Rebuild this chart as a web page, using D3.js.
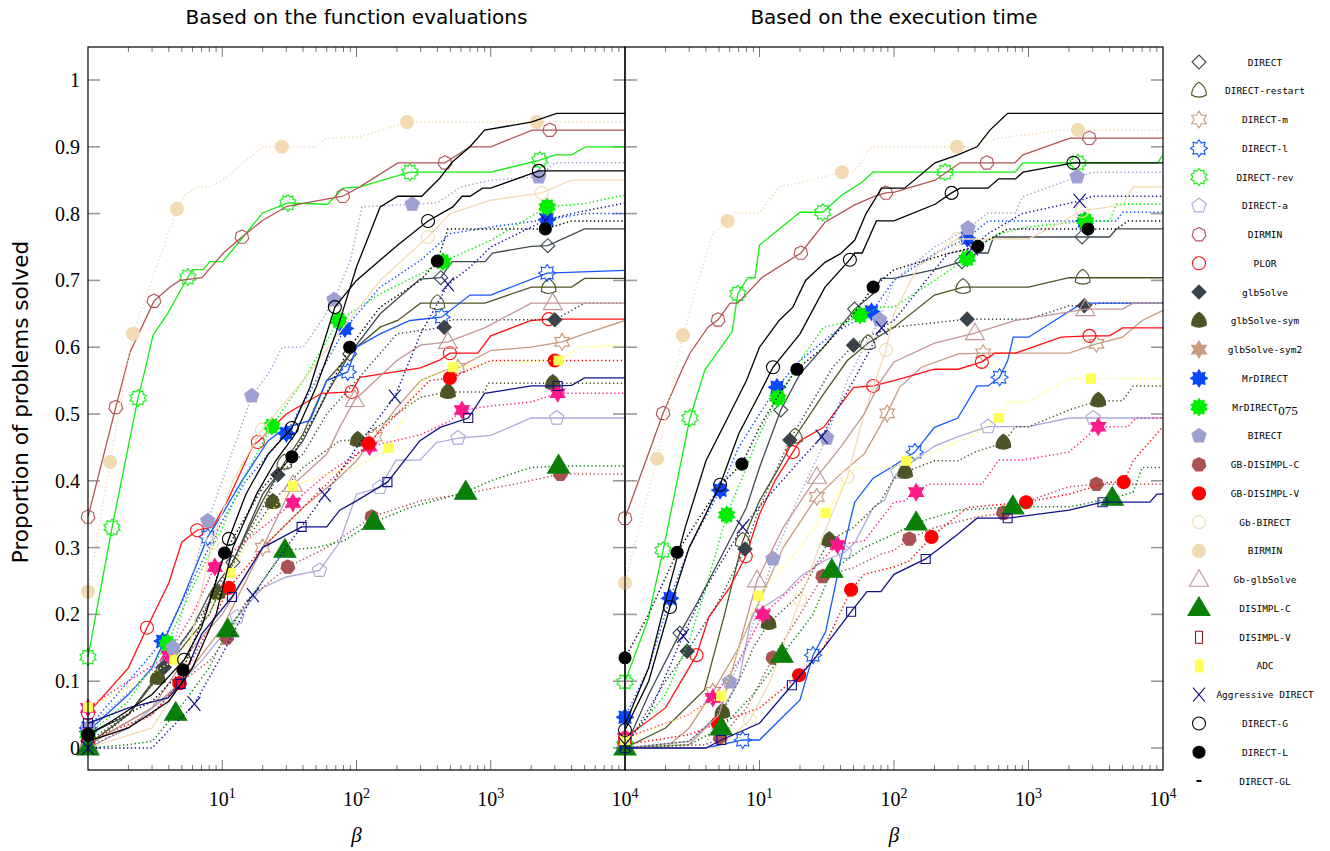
<!DOCTYPE html>
<html>
<head>
<meta charset="utf-8">
<script src="https://cdn.jsdelivr.net/npm/d3@7"></script>
<style>
  body { margin: 0; background: #fff; }
  svg { display: block; }
</style>
</head>
<body>
<svg id="chart" width="1330" height="851"></svg>
<script>
// DATA: [beta, proportion, mark?] for each solver, function evaluations (fe) and execution time (et)

const panelTitles = ["Based on the function evaluations", "Based on the execution time"]
const yTicks = [0, 0.1, 0.2, 0.3, 0.4, 0.5, 0.6, 0.7, 0.8, 0.9, 1]
const xTickExps = [1, 2, 3, 4]

const fe_DIRECT = [[1,0.02,1],[2,0.05],[3.6,0.12,1],[6,0.18],[8,0.23],[12,0.278,1],[20,0.38],[40,0.46],[60,0.53],[89,0.59,1],[150,0.65],[297,0.702],[424,0.704,1],[515,0.728],[907,0.728],[1030,0.741],[2010,0.751],[2660,0.752,1],[5000,0.777],[10000,0.777]]
const fe_DIRECT_restart = [[1,0.005,1],[2,0.05],[3.3,0.105,1],[8,0.2],[12,0.28],[20,0.37],[29,0.427,1],[40,0.47],[60,0.55],[100,0.6],[150,0.63],[203,0.64],[300,0.666],[400,0.666,1],[907,0.666],[2010,0.69],[2700,0.69,1],[4000,0.69],[5000,0.703],[10000,0.703]]
const fe_DIRECT_m = [[1,0.005,1],[3,0.06],[5,0.1],[10,0.18],[20,0.3,1],[40,0.36],[70,0.4],[100,0.43],[137,0.466,1],[200,0.51],[300,0.55],[450,0.565],[570,0.569,1],[1000,0.595],[2000,0.6],[3400,0.608,1],[5000,0.62],[10000,0.64]]
const fe_DIRECT_l = [[1,0.025,1],[2,0.08],[3,0.12],[5,0.22],[7.8,0.316,1],[10,0.35],[14,0.4],[22,0.46],[30,0.48],[45,0.49],[60,0.55],[86,0.563,1],[100,0.6],[150,0.62],[250,0.64],[430,0.645,1],[700,0.678],[1000,0.678],[2630,0.711,1],[10000,0.715]]
const fe_DIRECT_rev = [[1,0.136,1],[1.51,0.33,1],[2.36,0.524,1],[2.66,0.566],[3.05,0.618],[3.94,0.651],[5.55,0.705,1],[6.06,0.716],[7.2,0.716],[8.1,0.728],[10.1,0.728],[14.3,0.765],[20,0.801],[30.8,0.816,1],[61,0.814],[79,0.838],[106,0.84],[250,0.862,1],[1000,0.862],[2320,0.88,1],[3000,0.888],[4000,0.888],[5100,0.9],[10000,0.9]]
const fe_DIRECT_a = [[1,0,1],[2,0.03],[4,0.08],[7,0.13],[12.9,0.196,1],[20,0.24],[30,0.256],[53,0.266,1],[75,0.308],[100,0.38],[149,0.39,1],[197,0.431],[297,0.431],[393,0.457],[570,0.464,1],[1000,0.468],[2000,0.494],[3100,0.494,1],[10000,0.494]]
const fe_DIRMIN = [[1,0.346,1],[1.61,0.51,1],[2.06,0.593],[3.1,0.669,1],[4.08,0.69],[4.84,0.7],[7.07,0.704],[10.2,0.741],[14,0.765,1],[20.1,0.79],[30.3,0.811],[79,0.826,1],[106,0.84],[203,0.876],[456,0.876,1],[700,0.9],[1000,0.9],[2040,0.925],[2750,0.925,1],[10000,0.925]]
const fe_PLOR = [[1,0.052,1],[2,0.12],[2.75,0.18,1],[4,0.247],[5,0.308],[6.5,0.326,1],[8.5,0.331],[11,0.371],[17,0.454],[18.4,0.458,1],[30,0.5],[55,0.531],[92,0.533,1],[106,0.555],[300,0.569],[420,0.581],[496,0.591,1],[800,0.591],[1000,0.617],[2000,0.64],[2700,0.642,1],[10000,0.642]]
const fe_glbSolve = [[1,0.01,1],[2,0.05],[3.7,0.121,1],[7,0.2],[12,0.28],[20,0.36],[26,0.409,1],[40,0.44],[60,0.5],[100,0.55],[200,0.62],[450,0.63,1],[500,0.641],[3000,0.641,1],[5000,0.666],[10000,0.666]]
const fe_glbSolve_sym = [[1,0,1],[2,0.05],[3.3,0.105,1],[6,0.18],[9.2,0.232,1],[15,0.31],[23.8,0.368,1],[40,0.42],[75,0.46],[102,0.461,1],[200,0.5],[300,0.525],[480,0.533,1],[900,0.533],[950,0.546],[2900,0.546,1],[10000,0.546]]
const fe_glbSolve_sym2 = [[1,0.06,1],[2,0.1],[3.96,0.139,1],[6,0.2],[8.8,0.271,1],[15,0.31],[33.6,0.367,1],[60,0.41],[100,0.44],[125,0.451,1],[300,0.469],[500,0.49],[610,0.506,1],[1000,0.512],[2000,0.518],[3150,0.531,1],[10000,0.531]]
const fe_MrDIRECT = [[1,0.03,1],[2,0.1],[3.6,0.16,1],[6,0.25],[10,0.34],[15,0.4],[30,0.471,1],[50,0.55],[82,0.628,1],[150,0.69],[300,0.73],[500,0.77],[1000,0.78],[2630,0.791,1],[5000,0.8],[10000,0.8]]
const fe_MrDIRECT075 = [[1,0.02,1],[2,0.07],[3.9,0.157,1],[6,0.24],[10,0.33],[15,0.41],[23.4,0.482,1],[40,0.55],[74,0.64,1],[150,0.68],[300,0.71],[440,0.728,1],[1000,0.76],[2630,0.81,1],[5000,0.815],[10000,0.828]]
const fe_BIRECT = [[1,0.03,1],[2.5,0.1],[4.3,0.15,1],[6,0.26],[7.8,0.34,1],[10,0.4],[16.6,0.527,1],[22,0.56],[28,0.6],[40,0.6],[55,0.64],[68,0.671,1],[90,0.73],[110,0.81],[260,0.814,1],[400,0.816],[600,0.84],[1000,0.85],[2280,0.855,1],[3000,0.876],[10000,0.876]]
const fe_GB_DISIMPL_C = [[1,0,1],[3,0.05],[4.8,0.097,1],[8,0.13],[10.8,0.165,1],[15,0.22],[30.8,0.271,1],[60,0.3],[100,0.33],[130,0.346,1],[300,0.37],[600,0.38],[1500,0.395],[3300,0.41,1],[10000,0.41]]
const fe_GB_DISIMPL_V = [[1,0.01,1],[3,0.05],[4.8,0.097,1],[8,0.18],[11.2,0.24,1],[20,0.3],[40,0.36],[80,0.42],[123,0.456,1],[200,0.5],[350,0.55],[496,0.554,1],[1000,0.58],[3000,0.58,1],[10000,0.58]]
const fe_Gb_BIRECT = [[1,0,1],[3,0.03],[5,0.1],[8.4,0.307,1],[12,0.4],[19.7,0.476,1],[40,0.55],[80,0.63],[150,0.7],[340,0.765,1],[500,0.8],[1000,0.82],[2400,0.831,1],[4000,0.85],[10000,0.85]]
const fe_BIRMIN = [[1,0.234,1],[1.46,0.428,1],[2.16,0.62,1],[4.6,0.807,1],[5.28,0.828],[6.6,0.84],[7.95,0.84],[10.1,0.85],[20,0.9],[27.8,0.9,1],[50.6,0.9],[60,0.913],[106,0.915],[238,0.937,1],[2200,0.937,1],[10000,0.937]]
const fe_Gb_glbSolve = [[1,0.005,1],[3,0.06],[6,0.15],[10,0.2],[20,0.3],[33.6,0.394,1],[60,0.44],[75,0.48],[97,0.521,1],[200,0.58],[300,0.603],[480,0.608,1],[900,0.629],[2000,0.666],[2900,0.666,1],[10000,0.666]]
const fe_DISIMPL_C = [[1,0,1],[2,0.005],[3,0.01],[4.5,0.052,1],[8,0.12],[11,0.177,1],[20,0.25],[29.3,0.296,1],[50,0.3],[80,0.31],[134,0.338,1],[250,0.36],[650,0.383,1],[1000,0.4],[2000,0.42],[3200,0.422,1],[10000,0.422]]
const fe_DISIMPL_V = [[1,0.037,1],[2,0.06],[3.95,0.075],[4.9,0.096,1],[7,0.17],[11.8,0.226,1],[20,0.3],[39,0.331,1],[60,0.331],[75,0.356],[100,0.37],[170,0.398,1],[297,0.46],[420,0.48],[680,0.494,1],[900,0.531],[2000,0.542],[3150,0.542,1],[4000,0.543],[5000,0.554],[10000,0.554]]
const fe_ADC = [[1,0.061,1],[2,0.09],[4.4,0.132,1],[8,0.2],[11.4,0.262,1],[20,0.34],[33.6,0.392,1],[60,0.41],[100,0.42],[174,0.449,1],[300,0.55],[525,0.57,1],[1000,0.575],[3200,0.58,1],[4500,0.6],[10000,0.603]]
const fe_Aggressive = [[1,0,1],[3,0],[6.2,0.066,1],[10,0.14],[16.9,0.229,1],[30,0.3],[58,0.379,1],[100,0.45],[193,0.526,1],[300,0.62],[480,0.694,1],[700,0.72],[1000,0.75],[2550,0.79,1],[4000,0.8],[10000,0.816]]
const fe_DIRECT_G = [[1,0.02,1],[1.5,0.04],[3,0.08],[5.2,0.132,1],[7,0.18],[9,0.25],[11.2,0.313,1],[15,0.38],[22,0.44],[33,0.479,1],[45,0.54],[69,0.66,1],[100,0.7],[203,0.753],[341,0.789,1],[522,0.81],[612,0.826],[700,0.826],[870,0.838],[1000,0.838],[2280,0.864,1],[10000,0.864]]
const fe_DIRECT_L = [[1,0.02,1],[3,0.07],[5.1,0.117,1],[8,0.22],[10.4,0.292,1],[20,0.39],[33,0.436,1],[50,0.5],[89,0.6,1],[150,0.66],[300,0.7],[400,0.729,1],[480,0.777],[2550,0.777,1],[4000,0.789],[10000,0.789]]
const fe_DIRECT_GL = [[1,0.01],[2,0.03],[4,0.07],[6,0.12],[9,0.2],[12,0.3],[18,0.38],[25,0.43],[35,0.47],[50,0.54],[70,0.62],[100,0.72],[150,0.81],[203,0.826],[306,0.826],[417,0.853],[515,0.877],[700,0.9],[900,0.925],[2000,0.937],[3100,0.95],[10000,0.95]]

const et_DIRECT = [[1,0,1],[1.5,0.08],[2.56,0.172,1],[3.5,0.22],[5,0.28],[8,0.36],[10,0.42],[14.4,0.506,1],[20,0.56],[30,0.6],[51,0.657,1],[70,0.68],[80,0.703],[100,0.703],[200,0.716],[320,0.728,1],[414,0.741],[500,0.741],[550,0.765],[2500,0.765,1],[4000,0.765],[4500,0.777],[10000,0.777]]
const et_DIRECT_restart = [[1,0,1],[2,0.03],[3.9,0.087],[5.5,0.2],[7.5,0.31,1],[10,0.37],[14,0.42],[18.4,0.466,1],[30,0.53],[45,0.58],[64,0.606,1],[100,0.63],[200,0.678],[326,0.69,1],[1000,0.69],[2000,0.704],[2530,0.704,1],[10000,0.704]]
const et_DIRECT_m = [[1,0,1],[2,0],[3,0.03],[4.5,0.084,1],[7,0.15],[10,0.22],[15,0.3],[26.7,0.376,1],[40,0.41],[60,0.44],[89,0.501,1],[110,0.54],[160,0.57],[300,0.59],[460,0.591,1],[2000,0.591],[3200,0.605,1],[5000,0.615],[7000,0.64],[10000,0.655]]
const et_DIRECT_l = [[1,0,1],[4,0],[7.5,0.012,1],[10,0.012],[20,0.072],[25,0.139,1],[31,0.174],[40,0.28],[51,0.368],[70,0.404],[95,0.42],[143,0.443,1],[200,0.48],[298,0.494],[414,0.542],[500,0.542],[610,0.555,1],[700,0.58],[770,0.615],[1000,0.615],[2500,0.666],[10000,0.666]]
const et_DIRECT_rev = [[1,0.099,1],[1.48,0.192],[1.92,0.296,1],[3.04,0.494,1],[3.93,0.566],[6.25,0.623],[6.9,0.68,1],[8.2,0.704],[9.26,0.704],[10,0.753],[20,0.802],[29.5,0.802,1],[41,0.828],[57.8,0.847],[69.8,0.862],[240,0.862,1],[794,0.862],[910,0.876],[2330,0.876,1],[9130,0.876],[10000,0.888]]
const et_DIRECT_a = [[1,0,1],[3,0.01],[5,0.05],[7,0.1],[8.8,0.2],[15,0.23],[20,0.256],[30,0.28],[43,0.293,1],[51,0.307],[70,0.36],[85,0.371],[100,0.404],[107,0.413,1],[200,0.452],[300,0.466],[500,0.481,1],[1000,0.481],[2000,0.494],[3030,0.494,1],[10000,0.494]]
const et_DIRMIN = [[1,0.344,1],[1.92,0.501,1],[2.65,0.566],[3.04,0.591],[4.14,0.63],[4.92,0.641,1],[6.04,0.666],[6.9,0.666],[10.4,0.704],[20.3,0.741,1],[30.7,0.787],[51,0.813],[72,0.826],[87,0.831,1],[101,0.832],[202,0.85],[310,0.876],[490,0.876,1],[794,0.876],[910,0.888],[2040,0.913],[2830,0.913,1],[10000,0.913]]
const et_PLOR = [[1,0.015,1],[2,0.06],[3.4,0.139,1],[4.2,0.196],[6,0.24],[7.9,0.287,1],[10,0.35],[13,0.4],[17.7,0.443,1],[20,0.46],[30,0.48],[50,0.54],[70,0.542,1],[100,0.55],[200,0.567],[300,0.567],[450,0.578,1],[560,0.591],[800,0.591],[1750,0.615],[2840,0.617,1],[4000,0.617],[5000,0.629],[10000,0.629]]
const et_glbSolve = [[1,0,1],[2,0.1],[2.9,0.145,1],[5,0.22],[7.8,0.298,1],[10,0.36],[16.8,0.461,1],[25,0.52],[35,0.57],[50,0.603,1],[70,0.62],[100,0.63],[350,0.642,1],[1000,0.642],[2000,0.662],[2600,0.662,1],[3500,0.666],[10000,0.666]]
const et_glbSolve_sym = [[1,0,1],[3,0.01],[5.3,0.054,1],[7,0.1],[9,0.15],[11.7,0.187,1],[20,0.23],[33,0.311,1],[50,0.33],[80,0.37],[100,0.404],[121,0.413,1],[200,0.43],[300,0.43],[400,0.443],[650,0.457,1],[800,0.481],[1000,0.481],[2000,0.506],[3300,0.52,1],[5000,0.52],[6000,0.542],[10000,0.542]]
const et_glbSolve_sym2 = [[1,0.015,1],[3,0.05],[4.5,0.075,1],[7,0.13],[10.6,0.2,1],[20,0.25],[38,0.304,1],[60,0.31],[100,0.368],[120,0.37],[146,0.383,1],[180,0.395],[450,0.395],[600,0.431],[900,0.431],[2000,0.443],[3300,0.481,1],[5500,0.481],[6300,0.494],[10000,0.494]]
const et_MrDIRECT = [[1,0.046,1],[1.5,0.12],[2.16,0.224,1],[3,0.3],[5.1,0.386,1],[7,0.45],[10,0.5],[13.5,0.54,1],[20,0.58],[35,0.62],[68,0.653,1],[100,0.7],[200,0.74],[350,0.763,1],[500,0.789],[2600,0.789,1],[4500,0.789],[5000,0.802],[10000,0.802]]
const et_MrDIRECT075 = [[1,0.005,1],[2,0.08],[3,0.16],[4,0.24],[5.7,0.349,1],[8,0.42],[10,0.47],[13.7,0.524,1],[20,0.58],[30,0.63],[45,0.638],[56,0.648,1],[80,0.66],[100,0.66],[200,0.7],[350,0.733,1],[400,0.75],[600,0.77],[1000,0.78],[2650,0.789,1],[4000,0.789],[4500,0.814],[10000,0.814]]
const et_BIRECT = [[1,0,1],[4,0.005],[6,0.099,1],[8,0.15],[10,0.22],[12.6,0.283,1],[20,0.38],[31.6,0.464,1],[45,0.55],[60,0.6],[78,0.641,1],[100,0.7],[200,0.75],[355,0.778,1],[500,0.801],[800,0.801],[900,0.825],[2300,0.855,1],[3000,0.862],[10000,0.862]]
const et_GB_DISIMPL_C = [[1,0,1],[4,0.005],[5.1,0.015,1],[8,0.06],[12.6,0.135,1],[20,0.2],[29.5,0.257,1],[50,0.27],[80,0.29],[100,0.296],[130,0.313,1],[200,0.33],[400,0.345],[650,0.352,1],[1000,0.37],[2000,0.391],[3200,0.395,1],[10000,0.395]]
const et_GB_DISIMPL_V = [[1,0.005,1],[3,0.02],[4.9,0.037,1],[10,0.06],[19.7,0.109,1],[30,0.15],[48,0.237,1],[60,0.26],[100,0.271],[130,0.28],[190,0.316,1],[350,0.36],[960,0.368,1],[2000,0.38],[4000,0.398],[5100,0.398,1],[6000,0.43],[10000,0.481]]
const et_Gb_BIRECT = [[1,0,1],[5,0],[8.5,0.042,1],[12,0.1],[20,0.222,1],[30,0.32],[45,0.406,1],[60,0.5],[87,0.596,1],[100,0.65],[150,0.72],[294,0.762,1],[1000,0.762],[2500,0.804,1],[5000,0.813],[6000,0.84],[10000,0.84]]
const et_BIRMIN = [[1,0.247,1],[1.73,0.433,1],[2.7,0.618,1],[3.5,0.7],[4.5,0.77],[5.8,0.789,1],[6.5,0.801],[10,0.801],[14,0.84],[20,0.846],[41,0.862,1],[50,0.862],[68,0.9],[100,0.9],[294,0.9,1],[400,0.9],[600,0.913],[1800,0.925],[2330,0.925,1],[10000,0.925]]
const et_Gb_glbSolve = [[1,0,1],[3,0.005],[5,0.05],[7,0.15],[9.6,0.251,1],[15,0.33],[26.7,0.406,1],[40,0.45],[60,0.5],[80,0.55],[100,0.578],[200,0.606],[400,0.621,1],[800,0.64],[2000,0.653],[2650,0.657,1],[5000,0.657],[6000,0.666],[10000,0.666]]
const et_DISIMPL_C = [[1,0,1],[3,0.005],[5.2,0.03,1],[9,0.08],[14.7,0.139,1],[25,0.2],[34.5,0.266,1],[60,0.3],[100,0.32],[146,0.337,1],[300,0.356],[765,0.361,1],[2000,0.361],[4200,0.374,1],[6000,0.383],[7000,0.42],[10000,0.42]]
const et_DISIMPL_V = [[1,0,1],[4,0],[5.2,0.012,1],[10,0.037],[17.4,0.094,1],[30,0.15],[48,0.204,1],[63,0.234],[80,0.234],[100,0.26],[172,0.283,1],[298,0.32],[414,0.344],[700,0.344,1],[2000,0.356],[3550,0.368,1],[8000,0.368],[9000,0.38],[10000,0.38]]
const et_ADC = [[1,0.012,1],[3,0.05],[5.2,0.078,1],[9.8,0.228,1],[20,0.3],[31,0.352,1],[51,0.42],[100,0.42],[123,0.43,1],[200,0.443],[400,0.47],[600,0.494,1],[700,0.518],[1000,0.518],[2000,0.553],[2900,0.553,1],[10000,0.553]]
const et_Aggressive = [[1,0.005,1],[1.5,0.05],[2.7,0.168,1],[4,0.24],[7.5,0.331,1],[12,0.38],[18,0.42],[29,0.466,1],[50,0.55],[81,0.629,1],[100,0.64],[250,0.74],[380,0.748,1],[500,0.77],[900,0.8],[2400,0.819,1],[3000,0.826],[10000,0.826]]
const et_DIRECT_G = [[1,0.027,1],[1.5,0.1],[2.16,0.211,1],[3,0.3],[5.1,0.394,1],[7,0.47],[10,0.53],[12.6,0.57,1],[20,0.62],[30.7,0.69],[47,0.731,1],[51,0.741],[58,0.741],[74,0.789],[100,0.789],[202,0.814],[268,0.831,1],[310,0.838],[500,0.838],[600,0.852],[800,0.852],[910,0.862],[2160,0.876,1],[10000,0.876]]
const et_DIRECT_L = [[1,0.135,1],[1.5,0.2],[2.44,0.293,1],[4,0.36],[5.5,0.4],[7.4,0.425,1],[10,0.48],[14,0.53],[19,0.567,1],[30,0.6],[50,0.65],[70,0.69,1],[100,0.716],[250,0.74],[420,0.751,1],[700,0.777],[2770,0.777,1],[4500,0.777],[5500,0.789],[10000,0.789]]
const et_DIRECT_GL = [[1,0.035],[1.5,0.12],[2,0.22],[2.8,0.33],[4,0.43],[6,0.5],[8,0.55],[10,0.6],[14,0.64],[17.7,0.66],[22,0.7],[30.7,0.727],[40,0.74],[51,0.76],[62,0.8],[81,0.838],[120,0.838],[202,0.876],[298,0.888],[414,0.9],[517,0.925],[700,0.95],[10000,0.95]]

// SERIES TABLE (styles) //

const series = [
  {name:"DIRECT", fe:fe_DIRECT, et:et_DIRECT, color:"#3e4a51", dotted:false, shape:"diamond", filled:false},
  {name:"DIRECT-restart", fe:fe_DIRECT_restart, et:et_DIRECT_restart, color:"#4d5527", dotted:false, shape:"reuleaux", filled:false},
  {name:"DIRECT-m", fe:fe_DIRECT_m, et:et_DIRECT_m, color:"#c99a7e", dotted:false, shape:"star6", filled:false},
  {name:"DIRECT-l", fe:fe_DIRECT_l, et:et_DIRECT_l, color:"#1457ff", dotted:false, shape:"star8", filled:false},
  {name:"DIRECT-rev", fe:fe_DIRECT_rev, et:et_DIRECT_rev, color:"#11ee11", dotted:false, shape:"star10", filled:false},
  {name:"DIRECT-a", fe:fe_DIRECT_a, et:et_DIRECT_a, color:"#aaaad8", dotted:false, shape:"pentagon", filled:false},
  {name:"DIRMIN", fe:fe_DIRMIN, et:et_DIRMIN, color:"#b05656", dotted:false, shape:"heptagon", filled:false},
  {name:"PLOR", fe:fe_PLOR, et:et_PLOR, color:"#ff1111", dotted:false, shape:"circle", filled:false},
  {name:"glbSolve", fe:fe_glbSolve, et:et_glbSolve, color:"#3a4349", dotted:true, shape:"diamond", filled:true},
  {name:"glbSolve-sym", fe:fe_glbSolve_sym, et:et_glbSolve_sym, color:"#4d5527", dotted:true, shape:"reuleaux", filled:true},
  {name:"glbSolve-sym2", fe:fe_glbSolve_sym2, et:et_glbSolve_sym2, color:"#ff1a8c", legendColor:"#c99a7e", dotted:true, shape:"star6", filled:true},
  {name:"MrDIRECT", fe:fe_MrDIRECT, et:et_MrDIRECT, color:"#0a48ff", dotted:true, shape:"star8", filled:true},
  {name:"MrDIRECT075", fe:fe_MrDIRECT075, et:et_MrDIRECT075, color:"#00ee00", dotted:true, shape:"star10", filled:true},
  {name:"BIRECT", fe:fe_BIRECT, et:et_BIRECT, color:"#9fa0d2", dotted:true, shape:"pentagon", filled:true},
  {name:"GB-DISIMPL-C", fe:fe_GB_DISIMPL_C, et:et_GB_DISIMPL_C, color:"#aa5252", dotted:true, shape:"heptagon", filled:true},
  {name:"GB-DISIMPL-V", fe:fe_GB_DISIMPL_V, et:et_GB_DISIMPL_V, color:"#ff0000", dotted:true, shape:"circle", filled:true},
  {name:"Gb-BIRECT", fe:fe_Gb_BIRECT, et:et_Gb_BIRECT, color:"#f3dcb4", dotted:false, shape:"circle", filled:false},
  {name:"BIRMIN", fe:fe_BIRMIN, et:et_BIRMIN, color:"#f2dab2", dotted:true, shape:"circle", filled:true},
  {name:"Gb-glbSolve", fe:fe_Gb_glbSolve, et:et_Gb_glbSolve, color:"#c29696", dotted:false, shape:"triangle", filled:false},
  {name:"DISIMPL-C", fe:fe_DISIMPL_C, et:et_DISIMPL_C, color:"#0a800a", dotted:true, shape:"bigtriangle", filled:true},
  {name:"DISIMPL-V", fe:fe_DISIMPL_V, et:et_DISIMPL_V, color:"#101088", legendColor:"#8b1a1a", dotted:false, shape:"square", legendShape:"rect", filled:false},
  {name:"ADC", fe:fe_ADC, et:et_ADC, color:"#ffff55", dotted:true, shape:"square", legendShape:"rect", filled:true},
  {name:"Aggressive DIRECT", fe:fe_Aggressive, et:et_Aggressive, color:"#101088", dotted:true, shape:"x", filled:false},
  {name:"DIRECT-G", fe:fe_DIRECT_G, et:et_DIRECT_G, color:"#000000", dotted:false, shape:"circle", filled:false},
  {name:"DIRECT-L", fe:fe_DIRECT_L, et:et_DIRECT_L, color:"#000000", dotted:true, shape:"dot", filled:true},
  {name:"DIRECT-GL", fe:fe_DIRECT_GL, et:et_DIRECT_GL, color:"#000000", dotted:false, shape:"dash", filled:false}
]

// MARKER SHAPES //

function polygon(n, r) {
  const pts = []
  for (let i = 0; i < n; i++) {
    const a = -Math.PI/2 + i*2*Math.PI/n
    pts.push([r*Math.cos(a), r*Math.sin(a)])
  }
  return "M" + pts.map(p => p[0].toFixed(2) + "," + p[1].toFixed(2)).join("L") + "Z"
}

function star(n, ro, ri) {
  const pts = []
  for (let i = 0; i < 2*n; i++) {
    const a = -Math.PI/2 + i*Math.PI/n
    const r = i % 2 === 0 ? ro : ri
    pts.push([r*Math.cos(a), r*Math.sin(a)])
  }
  return "M" + pts.map(p => p[0].toFixed(2) + "," + p[1].toFixed(2)).join("L") + "Z"
}

function reuleaux(r) {
  const v = [-90, 30, 150].map(d => [r*Math.cos(d*Math.PI/180), r*Math.sin(d*Math.PI/180)])
  const s = r*Math.sqrt(3)
  return `M${v[0]}A${s},${s} 0 0 1 ${v[1]}A${s},${s} 0 0 1 ${v[2]}A${s},${s} 0 0 1 ${v[0]}Z`
}

function shapePath(shape) {
  switch (shape) {
    case "diamond": return "M0,-7L7,0L0,7L-7,0Z"
    case "reuleaux": return reuleaux(8.5)
    case "star6": return star(6, 8.5, 4.9)
    case "star8": return star(8, 8.5, 5.6)
    case "star10": return star(10, 8.5, 6.2)
    case "pentagon": return polygon(5, 7.5)
    case "heptagon": return polygon(7, 7)
    case "circle": return "M6.5,0A6.5,6.5 0 1 1 -6.5,0A6.5,6.5 0 1 1 6.5,0Z"
    case "dot": return "M6,0A6,6 0 1 1 -6,0A6,6 0 1 1 6,0Z"
    case "triangle": return "M0,-10L9.5,6.5L-9.5,6.5Z"
    case "bigtriangle": return "M0,-11.5L11,7L-11,7Z"
    case "square": return "M-4.5,-4.5h9v9h-9Z"
    case "rect": return "M-3.5,-6h7v12h-7Z"
    case "x": return "M-6,-7L6,7M-6,7L6,-7"
    case "dash": return "M-2.5,0h5"
  }
}

// CHART //

const svg = d3.select("#chart")
const yTop = 47, yBottom = 770
const y = d3.scaleLinear().domain([0, 1]).range([748, 80])

const panels = [
  {key:"fe", x0:88, x1:625, title:panelTitles[0]},
  {key:"et", x0:625, x1:1163, title:panelTitles[1]}
]

const serif = "'Liberation Serif', 'DejaVu Serif', serif"
const sans = "'DejaVu Sans', sans-serif"
const mono = "'DejaVu Sans Mono', monospace"

panels.forEach((p, pi) => {
  const x = d3.scaleLog().domain([1, 1e4]).range([p.x0, p.x1])
  const g = svg.append("g")

  // y ticks (both sides, inside)
  yTicks.forEach(t => {
    g.append("line").attr("x1", p.x0).attr("x2", p.x0 + 12).attr("y1", y(t)).attr("y2", y(t))
      .attr("stroke", "#9a9a9a").attr("stroke-width", 1.6)
    g.append("line").attr("x1", p.x1 - 12).attr("x2", p.x1).attr("y1", y(t)).attr("y2", y(t))
      .attr("stroke", "#9a9a9a").attr("stroke-width", 1.6)
  })

  // x ticks top & bottom
  for (let e = 0; e < 4; e++) {
    for (let m = 1; m <= 9; m++) {
      const v = m * Math.pow(10, e)
      if (v === 1) continue
      const len = m === 1 ? 10 : 5
      const xx = x(v)
      g.append("line").attr("x1", xx).attr("x2", xx).attr("y1", yTop).attr("y2", yTop + len)
        .attr("stroke", "#555").attr("stroke-width", 0.8)
      g.append("line").attr("x1", xx).attr("x2", xx).attr("y1", yBottom).attr("y2", yBottom - len)
        .attr("stroke", "#555").attr("stroke-width", 0.8)
    }
  }

  // clip for lines
  svg.append("clipPath").attr("id", "clip" + pi)
    .append("rect").attr("x", p.x0).attr("y", yTop).attr("width", p.x1 - p.x0).attr("height", yBottom - yTop)

  const line = d3.line().x(d => x(d[0])).y(d => y(d[1]))

  series.forEach(s => {
    const data = s[p.key]
    g.append("path").datum(data)
      .attr("d", line)
      .attr("fill", "none")
      .attr("stroke", s.color)
      .attr("stroke-width", s.dotted ? 1.5 : 1.3)
      .attr("stroke-dasharray", s.dotted ? "1.3,2.6" : null)
      .attr("clip-path", `url(#clip${pi})`)

    if (s.shape === "dash") return
    g.selectAll(null).data(data.filter(d => d[2]))
      .enter().append("path")
      .attr("d", shapePath(s.shape))
      .attr("transform", d => `translate(${x(d[0])},${y(d[1])})`)
      .attr("fill", s.filled ? s.color : "none")
      .attr("stroke", s.color)
      .attr("stroke-width", s.shape === "x" ? 1.2 : 1.1)
  })

  // frame
  svg.append("rect").attr("x", p.x0).attr("y", yTop).attr("width", p.x1 - p.x0).attr("height", yBottom - yTop)
    .attr("fill", "none").attr("stroke", "#000").attr("stroke-width", 1.2)

  // x tick labels
  xTickExps.forEach(e => {
    const t = svg.append("text").attr("x", x(Math.pow(10, e))).attr("y", 806)
      .attr("text-anchor", "middle").attr("font-family", serif).attr("font-size", 20)
    t.append("tspan").text("10")
    t.append("tspan").attr("font-size", 14).attr("dy", -8).text(e)
  })

  // beta label
  svg.append("text").attr("x", (p.x0 + p.x1)/2).attr("y", 842)
    .attr("text-anchor", "middle").attr("font-family", serif).attr("font-style", "italic")
    .attr("font-size", 21).text("β")

  // title
  svg.append("text").attr("x", (p.x0 + p.x1)/2).attr("y", 24)
    .attr("text-anchor", "middle").attr("font-family", sans).attr("font-size", 20).text(p.title)
})

// y tick labels
yTicks.forEach(t => {
  svg.append("text").attr("x", 80).attr("y", y(t) + 7)
    .attr("text-anchor", "end").attr("font-family", serif).attr("font-size", 20)
    .text(d3.format("~g")(t))
})

// y axis label
svg.append("text").attr("transform", "translate(28,402) rotate(-90)")
  .attr("text-anchor", "middle").attr("font-family", sans).attr("font-size", 21.5)
  .text("Proportion of problems solved")

// LEGEND //

const legend = svg.append("g")
series.forEach((s, i) => {
  const ly = 62 + i * 28.76
  const col = s.legendColor || s.color
  const shp = s.legendShape || s.shape
  legend.append("path")
    .attr("d", shapePath(shp))
    .attr("transform", `translate(1199,${ly})`)
    .attr("fill", s.filled ? col : "none")
    .attr("stroke", col)
    .attr("stroke-width", shp === "dash" ? 2 : 1.1)
  const t = legend.append("text").attr("x", 1265).attr("y", ly + 3.5)
    .attr("text-anchor", "middle").attr("font-family", mono).attr("font-size", 9.5)
  if (s.name === "MrDIRECT075") {
    t.append("tspan").text("MrDIRECT")
    t.append("tspan").attr("font-family", serif).attr("font-size", 13).attr("dy", 4).text("075")
  } else {
    t.text(s.name)
  }
})
</script>
</body>
</html>
